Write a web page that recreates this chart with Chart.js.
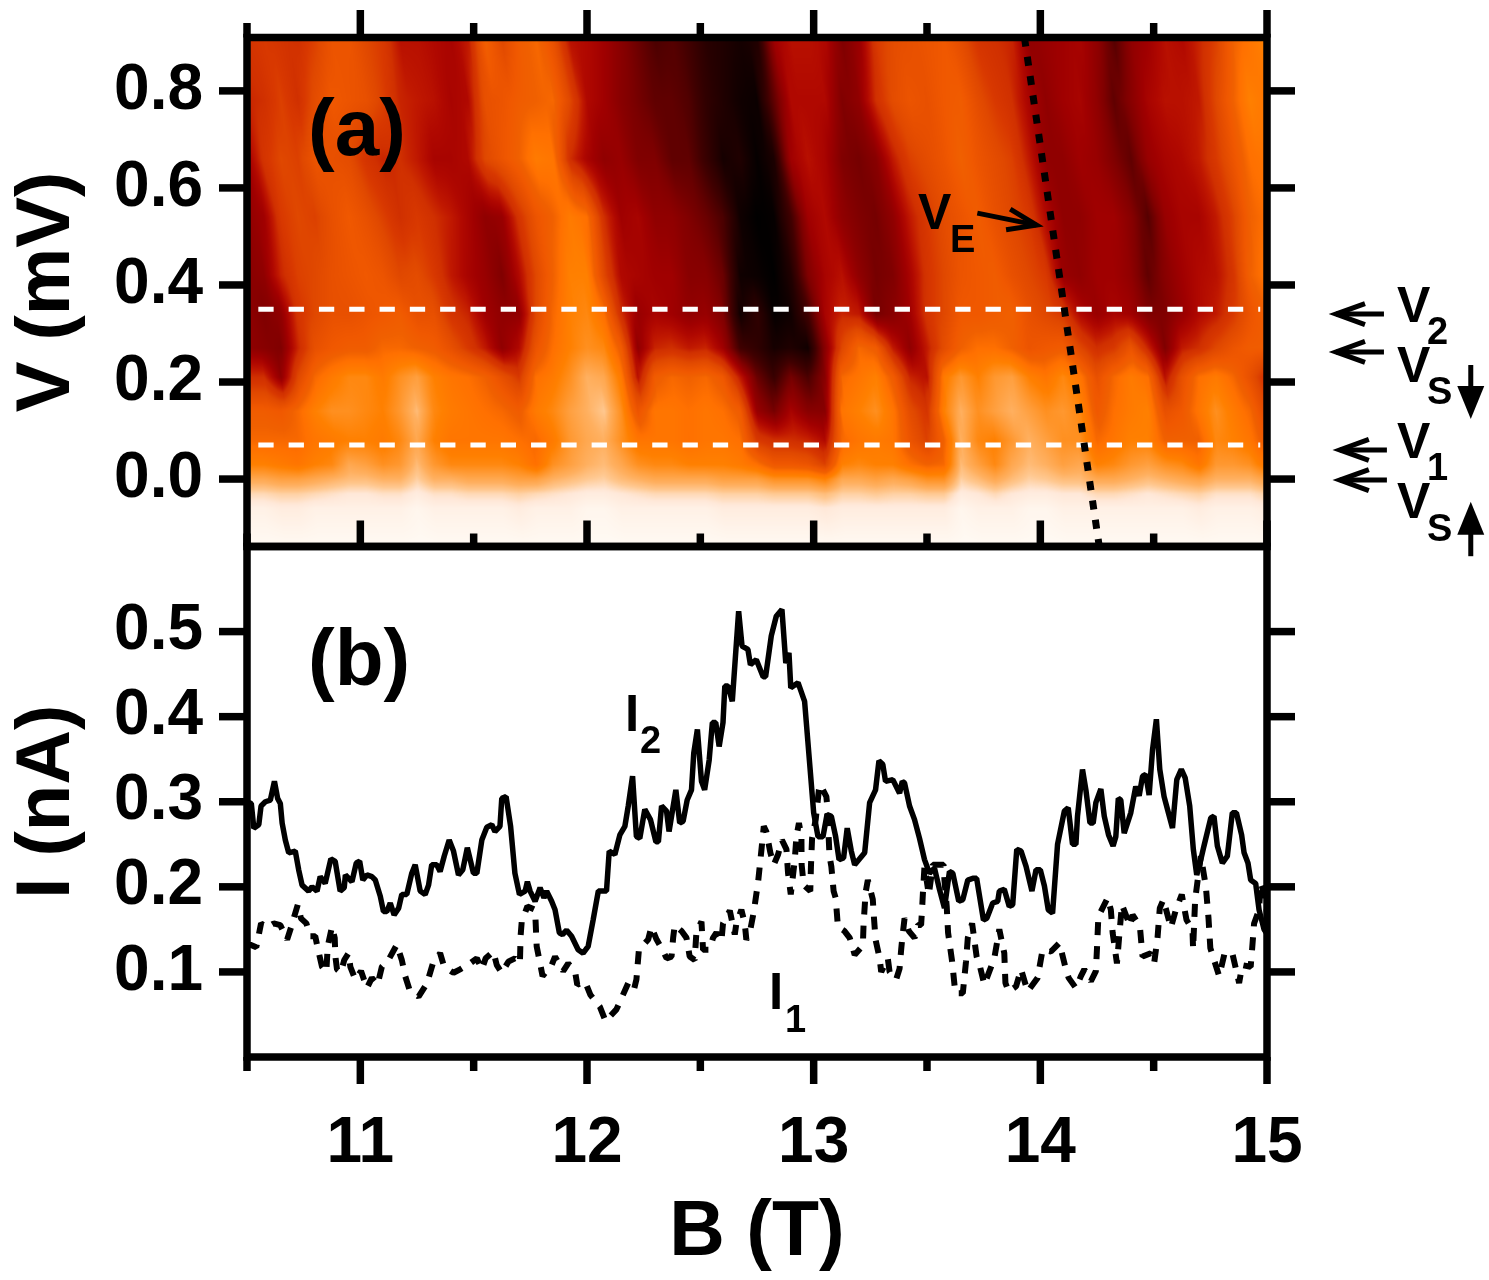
<!DOCTYPE html>
<html>
<head>
<meta charset="utf-8">
<title>V(B) map and I(B) traces</title>
<script src="https://cdn.jsdelivr.net/npm/chart.js@4/dist/chart.umd.min.js"></script>
<style>
  html, body { margin: 0; padding: 0; background: #fff; }
  #wrap { position: relative; width: 1489px; height: 1280px; overflow: hidden; }
  canvas { position: absolute; left: 0; top: 0; }
</style>
</head>
<body>
<div id="wrap">
  <canvas id="mapChart" width="1489" height="1280"></canvas>
  <canvas id="traceChart" width="1489" height="1280"></canvas>
</div>
<script>
// tick positions
const xMajorTicks = [11, 12, 13, 14, 15];
const xMinorTicks = [10.5, 11.5, 12.5, 13.5, 14.5];
const vTicks = [0.0, 0.2, 0.4, 0.6, 0.8];
const iTicks = [0.1, 0.2, 0.3, 0.4, 0.5];

// horizontal guide levels and the V_E line in panel (a)
const v1Level = 0.07;
const v2Level = 0.35;
const guideB = [10.55, 14.97];
const veB = [13.93, 14.26];
const veV = [0.91, -0.139];

// panel (a): colour index 0..100 read along each V level, one per heatB column
const heatB = [10.5,10.575,10.65,10.725,10.8,10.875,10.95,11.025,11.1,11.175,11.25,11.325,11.4,11.475,11.55,11.625,11.7,11.775,11.85,11.925,12,12.075,12.15,12.225,12.3,12.375,12.45,12.525,12.6,12.675,12.75,12.825,12.9,12.975,13.05,13.125,13.2,13.275,13.35,13.425,13.5,13.575,13.65,13.725,13.8,13.875,13.95,14.025,14.1,14.175,14.25,14.325,14.4,14.475,14.55,14.625,14.7,14.775,14.85,14.925,15];
const heatV = [0.91, 0.78, 0.66, 0.54, 0.42, 0.34, 0.27, 0.21, 0.14, 0.08, 0.03, 0.0, -0.03, -0.06, -0.14];
const heat091 = [48,50,48,46,52,60,60,54,50,40,40,38,36,42,66,54,64,68,58,40,38,34,28,22,16,18,14,8,6,4,6,34,40,40,38,26,32,50,56,58,60,62,56,48,46,44,30,32,34,36,30,18,30,34,40,38,44,52,66,72,78];
const heat078 = [44,46,52,46,56,62,60,58,52,44,42,40,36,38,58,60,64,66,68,54,38,34,28,24,20,20,17,10,6,3,2,20,38,38,38,26,30,46,56,60,58,62,64,56,50,46,36,30,34,36,30,20,28,36,40,40,42,54,66,76,72];
const heat066 = [34,48,54,52,60,58,56,48,44,46,42,36,36,38,54,60,66,74,72,46,36,30,32,26,26,20,20,12,4,6,1,5,34,40,36,26,24,28,42,52,56,60,66,60,56,52,42,30,30,34,32,26,20,32,36,38,42,50,60,70,72];
const heat054 = [30,34,50,54,52,58,62,58,52,46,50,46,42,36,30,32,48,60,66,74,70,46,34,36,30,30,26,22,16,3,0,1,14,34,38,30,26,24,30,42,50,56,60,64,58,54,50,38,30,30,34,34,28,18,32,36,36,42,52,66,70];
const heat042 = [28,30,44,52,54,58,60,62,60,54,56,50,42,36,32,26,38,54,66,76,76,54,38,36,34,34,28,28,22,3,2,0,6,26,36,40,30,24,26,36,48,54,60,62,64,58,54,50,32,30,34,34,30,20,28,34,38,40,48,66,72];
const heat034 = [30,26,30,48,54,58,58,60,62,64,58,58,48,44,34,30,30,54,68,76,78,70,46,32,36,34,30,32,26,3,10,1,3,14,36,44,42,24,28,34,48,54,62,62,64,66,58,54,50,38,32,36,34,26,26,32,38,42,50,60,66];
const heat027 = [30,28,26,44,58,62,64,64,68,68,66,64,58,50,42,30,38,60,70,76,80,78,64,30,44,46,42,44,34,14,10,4,6,3,28,54,68,64,42,30,42,56,66,70,70,66,60,62,64,54,46,50,60,44,26,42,46,54,60,64,64];
const heat021 = [46,46,30,54,68,74,78,78,74,80,84,76,72,70,66,58,50,70,74,80,88,86,74,40,64,68,66,68,62,42,22,12,24,16,28,68,72,76,64,44,40,74,82,76,82,84,76,72,78,72,58,68,74,70,40,58,70,74,68,58,46];
const heat014 = [64,64,62,68,76,80,80,78,76,82,90,78,74,72,70,68,64,74,78,84,88,92,80,60,72,72,70,72,70,64,32,24,36,28,28,72,76,80,72,56,48,76,88,80,84,88,84,80,82,78,62,70,74,76,58,62,72,80,74,68,54];
const heat008 = [68,68,68,68,72,74,76,76,74,78,86,76,72,72,72,72,70,68,74,82,86,88,80,72,72,72,70,72,72,70,50,46,46,44,38,68,72,74,72,60,52,66,88,78,76,82,88,84,80,80,68,72,76,76,66,66,66,78,76,72,62];
const heat003 = [76,76,74,72,76,78,86,84,80,82,90,82,78,78,78,78,76,70,80,84,88,90,86,80,78,78,76,76,76,74,70,62,62,60,52,76,78,76,76,70,66,68,90,84,78,86,90,88,84,86,76,78,82,84,80,78,72,82,82,80,72];
const heat000 = [86,86,84,84,86,88,90,90,88,88,93,88,88,86,86,86,84,84,88,90,92,93,90,88,86,86,86,86,84,84,84,80,80,80,76,86,86,84,86,84,80,80,93,90,86,90,93,92,90,90,86,86,88,90,88,86,84,88,88,88,84];
const heatM03 = [94,94,93,93,94,95,96,96,95,95,97,95,95,94,94,94,93,94,95,96,97,97,96,95,94,94,94,94,93,93,93,92,92,92,90,93,93,92,93,93,92,92,97,96,94,96,97,97,96,96,94,94,95,96,95,94,93,95,95,95,93];
const heatM06 = [98,98,97,97,98,98,98,98,98,98,99,98,98,98,98,98,97,98,98,98,99,99,98,98,98,98,98,98,97,97,97,97,97,97,96,97,97,97,97,97,97,97,99,98,98,98,99,99,98,98,98,98,98,98,98,98,97,98,98,98,97];
const heatM14 = [100,100,100,100,100,100,100,100,100,100,100,100,100,100,100,100,100,100,100,100,100,100,100,100,100,100,100,100,100,100,100,100,100,100,100,100,100,100,100,100,100,100,100,100,100,100,100,100,100,100,100,100,100,100,100,100,100,100,100,100,100];
const heatRows = [heat091, heat078, heat066, heat054, heat042, heat034, heat027, heat021, heat014, heat008, heat003, heat000, heatM03, heatM06, heatM14];

// panel (b): I2, solid trace
const i2B = [10.5,10.519,10.53,10.552,10.562,10.581,10.603,10.621,10.635,10.647,10.655,10.669,10.684,10.713,10.728,10.743,10.772,10.787,10.809,10.823,10.845,10.87,10.889,10.911,10.929,10.934,10.963,10.982,10.997,11.011,11.029,11.051,11.066,11.088,11.102,11.117,11.132,11.149,11.169,11.183,11.205,11.227,11.242,11.264,11.286,11.301,11.315,11.337,11.352,11.37,11.392,11.411,11.433,11.452,11.472,11.499,11.514,11.536,11.558,11.58,11.594,11.616,11.624,11.643,11.663,11.682,11.702,11.727,11.737,11.749,11.771,11.793,11.81,11.822,11.844,11.859,11.878,11.892,11.91,11.932,11.961,11.983,12.005,12.027,12.05,12.086,12.098,12.123,12.145,12.167,12.182,12.201,12.218,12.233,12.255,12.28,12.304,12.315,12.329,12.351,12.362,12.373,12.392,12.409,12.424,12.442,12.461,12.471,12.487,12.505,12.519,12.539,12.553,12.568,12.583,12.6,12.608,12.622,12.641,12.669,12.684,12.71,12.721,12.747,12.777,12.788,12.813,12.835,12.86,12.877,12.891,12.899,12.931,12.96,12.982,13,13.019,13.041,13.059,13.078,13.097,13.112,13.132,13.148,13.166,13.181,13.225,13.247,13.273,13.288,13.305,13.317,13.349,13.379,13.391,13.401,13.423,13.445,13.467,13.489,13.511,13.533,13.555,13.577,13.599,13.614,13.64,13.658,13.68,13.702,13.719,13.749,13.764,13.79,13.812,13.819,13.841,13.863,13.878,13.896,13.915,13.937,13.963,13.981,14,14.018,14.035,14.054,14.076,14.106,14.123,14.142,14.157,14.164,14.186,14.201,14.219,14.233,14.245,14.267,14.282,14.301,14.321,14.333,14.344,14.355,14.37,14.399,14.421,14.436,14.451,14.465,14.48,14.495,14.512,14.527,14.546,14.565,14.583,14.602,14.622,14.639,14.659,14.675,14.69,14.708,14.722,14.752,14.766,14.781,14.803,14.825,14.847,14.865,14.888,14.899,14.916,14.928,14.95,14.965,14.987,15];
const i2I = [0.3,0.298,0.269,0.273,0.295,0.3,0.302,0.324,0.304,0.298,0.275,0.255,0.24,0.242,0.22,0.202,0.195,0.2,0.195,0.212,0.204,0.233,0.23,0.195,0.199,0.214,0.206,0.228,0.23,0.208,0.214,0.212,0.208,0.189,0.171,0.171,0.181,0.167,0.175,0.191,0.191,0.216,0.226,0.195,0.191,0.202,0.226,0.226,0.218,0.236,0.255,0.242,0.214,0.22,0.246,0.216,0.216,0.255,0.27,0.273,0.265,0.271,0.304,0.306,0.271,0.216,0.191,0.195,0.206,0.195,0.183,0.199,0.187,0.195,0.183,0.173,0.146,0.144,0.149,0.142,0.126,0.122,0.13,0.161,0.195,0.195,0.242,0.238,0.261,0.271,0.295,0.33,0.259,0.257,0.291,0.279,0.253,0.253,0.295,0.289,0.265,0.283,0.314,0.275,0.277,0.302,0.314,0.357,0.385,0.324,0.314,0.349,0.393,0.393,0.365,0.393,0.436,0.436,0.418,0.524,0.483,0.479,0.461,0.467,0.447,0.447,0.495,0.518,0.526,0.463,0.475,0.434,0.44,0.418,0.346,0.287,0.259,0.259,0.285,0.283,0.259,0.232,0.234,0.269,0.242,0.226,0.24,0.299,0.314,0.348,0.344,0.324,0.326,0.31,0.324,0.322,0.295,0.279,0.257,0.232,0.216,0.222,0.197,0.175,0.218,0.216,0.183,0.185,0.208,0.21,0.21,0.161,0.163,0.181,0.183,0.195,0.197,0.177,0.179,0.244,0.242,0.224,0.195,0.22,0.22,0.201,0.173,0.169,0.25,0.289,0.293,0.25,0.25,0.283,0.338,0.314,0.275,0.275,0.299,0.315,0.283,0.261,0.248,0.259,0.304,0.302,0.263,0.287,0.318,0.307,0.33,0.332,0.308,0.361,0.397,0.338,0.306,0.287,0.269,0.326,0.338,0.328,0.295,0.244,0.214,0.232,0.248,0.281,0.283,0.248,0.228,0.236,0.287,0.287,0.261,0.24,0.228,0.208,0.204,0.173,0.15,0.145];

// panel (b): I1, dashed trace
const i1B = [10.5,10.515,10.541,10.562,10.588,10.618,10.647,10.677,10.694,10.724,10.738,10.762,10.779,10.801,10.812,10.831,10.85,10.856,10.875,10.887,10.89,10.897,10.914,10.929,10.948,10.956,10.978,11.003,11.029,11.051,11.076,11.095,11.124,11.161,11.183,11.198,11.217,11.257,11.286,11.301,11.32,11.352,11.37,11.411,11.44,11.484,11.514,11.536,11.553,11.587,11.602,11.624,11.653,11.682,11.704,11.707,11.712,11.737,11.771,11.778,11.793,11.804,11.844,11.859,11.895,11.917,11.947,11.957,11.991,12.015,12.057,12.082,12.13,12.152,12.182,12.207,12.218,12.229,12.27,12.284,12.307,12.333,12.351,12.373,12.38,12.387,12.417,12.439,12.453,12.475,12.483,12.505,12.512,12.541,12.556,12.571,12.593,12.6,12.63,12.652,12.659,12.681,12.696,12.703,12.718,12.736,12.755,12.769,12.78,12.791,12.809,12.824,12.843,12.86,12.88,12.887,12.899,12.916,12.924,12.935,12.946,12.947,12.956,12.985,12.988,12.993,13.009,13.023,13.029,13.056,13.06,13.07,13.078,13.088,13.097,13.103,13.107,13.136,13.159,13.181,13.217,13.22,13.229,13.239,13.261,13.264,13.273,13.291,13.298,13.327,13.335,13.364,13.379,13.386,13.391,13.401,13.42,13.445,13.46,13.474,13.479,13.482,13.489,13.508,13.526,13.573,13.577,13.587,13.593,13.611,13.625,13.658,13.672,13.68,13.699,13.719,13.734,13.753,13.797,13.819,13.841,13.846,13.86,13.893,13.915,13.944,13.988,14.01,14.047,14.084,14.113,14.125,14.157,14.179,14.194,14.223,14.245,14.25,14.256,14.297,14.311,14.319,14.338,14.348,14.36,14.396,14.407,14.439,14.451,14.487,14.502,14.517,14.527,14.543,14.576,14.598,14.624,14.645,14.671,14.674,14.683,14.708,14.73,14.742,14.75,14.789,14.813,14.847,14.877,14.891,14.928,14.935,14.943,14.965,14.972,14.987,15];
const i1I = [0.13,0.132,0.129,0.157,0.152,0.157,0.155,0.138,0.152,0.179,0.163,0.157,0.142,0.142,0.128,0.106,0.1,0.13,0.153,0.14,0.118,0.103,0.099,0.114,0.122,0.106,0.091,0.101,0.081,0.093,0.085,0.106,0.114,0.132,0.114,0.095,0.079,0.071,0.083,0.093,0.11,0.122,0.106,0.099,0.103,0.11,0.116,0.103,0.116,0.124,0.108,0.099,0.112,0.116,0.11,0.142,0.159,0.177,0.173,0.13,0.11,0.095,0.108,0.118,0.101,0.11,0.101,0.085,0.089,0.073,0.059,0.042,0.056,0.069,0.087,0.079,0.091,0.126,0.138,0.153,0.138,0.126,0.116,0.118,0.14,0.155,0.148,0.14,0.118,0.114,0.148,0.159,0.126,0.126,0.14,0.146,0.136,0.157,0.172,0.144,0.157,0.173,0.157,0.138,0.146,0.171,0.206,0.242,0.271,0.265,0.24,0.226,0.238,0.255,0.244,0.216,0.191,0.23,0.259,0.275,0.259,0.226,0.202,0.195,0.224,0.257,0.279,0.314,0.32,0.306,0.295,0.236,0.224,0.195,0.187,0.167,0.153,0.148,0.14,0.12,0.131,0.155,0.193,0.208,0.185,0.171,0.138,0.116,0.1,0.116,0.1,0.091,0.104,0.126,0.14,0.163,0.148,0.14,0.155,0.155,0.177,0.193,0.224,0.191,0.226,0.226,0.208,0.177,0.146,0.112,0.075,0.075,0.112,0.14,0.157,0.118,0.106,0.085,0.116,0.15,0.122,0.087,0.077,0.083,0.103,0.077,0.093,0.126,0.124,0.134,0.103,0.093,0.081,0.095,0.103,0.089,0.101,0.128,0.165,0.187,0.173,0.146,0.11,0.142,0.179,0.154,0.167,0.154,0.118,0.122,0.11,0.14,0.175,0.185,0.152,0.173,0.191,0.161,0.15,0.127,0.185,0.236,0.201,0.163,0.128,0.095,0.122,0.122,0.087,0.108,0.106,0.129,0.157,0.173,0.205,0.193,0.17];

// colour stops of the map: [index, colour]
const heatStops = [[0,'#000000'],[6,'#200000'],[14,'#400000'],[20,'#600000'],[26,'#800000'],[30,'#900000'],[34,'#a00000'],[38,'#b00800'],[42,'#c01800'],[46,'#d03000'],[50,'#d83800'],[54,'#e04800'],[58,'#e85000'],[62,'#f05800'],[66,'#f06000'],[70,'#ff7000'],[76,'#ff8000'],[80,'#ff9020'],[84,'#ffa040'],[88,'#ffb060'],[92,'#ffc890'],[96,'#ffe8d8'],[100,'#fffaf4']];

const FONT = '"Liberation Sans", Arial, sans-serif';
const STREAK_SLOPE = 0.3; // T per mV, streaks lean to higher B at lower V

Chart.defaults.font.family = FONT;
Chart.defaults.color = '#000';

function hexRgb(hex) {
  return [1, 3, 5].map(i => parseInt(hex.slice(i, i + 2), 16));
}

function heatColour(value) {
  let k = 0;
  while (k < heatStops.length - 2 && value > heatStops[k + 1][0]) k++;
  const [v0, c0] = heatStops[k];
  const [v1, c1] = heatStops[k + 1];
  const t = Math.min(1, Math.max(0, (value - v0) / (v1 - v0)));
  const a = hexRgb(c0), b = hexRgb(c1);
  return a.map((c, i) => c + (b[i] - c) * t);
}

function sampleRow(row, b) {
  const last = heatB.length - 1;
  const f = Math.min(last, Math.max(0, (b - heatB[0]) / (heatB[last] - heatB[0]) * last));
  const i = Math.min(last - 1, Math.floor(f));
  return row[i] + (row[i + 1] - row[i]) * (f - i);
}

// paints the map cells from heatRows through the chart's own scales
const heatmapPlugin = {
  id: 'heatmap',
  beforeDatasetsDraw(chart) {
    const { ctx, chartArea: area, scales: { x, y } } = chart;
    const w = Math.ceil(area.right - area.left);
    const h = Math.ceil(area.bottom - area.top);
    const off = document.createElement('canvas');
    off.width = w;
    off.height = h;
    const offCtx = off.getContext('2d');
    const img = offCtx.createImageData(w, h);
    const lut = [];
    for (let i = 0; i <= 1000; i++) lut.push(heatColour(i / 10));
    for (let py = 0; py < h; py++) {
      const v = y.getValueForPixel(area.top + py + 0.5);
      let k = 0;
      while (k < heatV.length - 2 && v < heatV[k + 1]) k++;
      const t = Math.min(1, Math.max(0, (heatV[k] - v) / (heatV[k] - heatV[k + 1])));
      for (let px = 0; px < w; px++) {
        const b = x.getValueForPixel(area.left + px + 0.5);
        const upper = sampleRow(heatRows[k], b + STREAK_SLOPE * (v - heatV[k]));
        const lower = sampleRow(heatRows[k + 1], b + STREAK_SLOPE * (v - heatV[k + 1]));
        const c = lut[Math.round((upper + (lower - upper) * t) * 10)];
        const o = (py * w + px) * 4;
        img.data[o] = c[0];
        img.data[o + 1] = c[1];
        img.data[o + 2] = c[2];
        img.data[o + 3] = 255;
      }
    }
    offCtx.putImageData(img, 0, 0);
    ctx.drawImage(off, area.left, area.top);
  }
};

function drawTick(ctx, x1, y1, x2, y2) {
  ctx.beginPath();
  ctx.moveTo(x1, y1);
  ctx.lineTo(x2, y2);
  ctx.stroke();
}

function drawFrame(chart, yTicks, topTicks, bottomTicks) {
  const { ctx, chartArea: a, scales: { x, y } } = chart;
  ctx.save();
  ctx.strokeStyle = '#000';
  ctx.lineWidth = 7.5;
  ctx.lineCap = 'butt';
  ctx.strokeRect(a.left, a.top, a.right - a.left, a.bottom - a.top);
  yTicks.forEach(v => {
    const p = y.getPixelForValue(v);
    drawTick(ctx, a.left - 28, p, a.left, p);
    drawTick(ctx, a.right, p, a.right + 28, p);
  });
  topTicks.forEach(([b, len]) => {
    const p = x.getPixelForValue(b);
    drawTick(ctx, p, a.top - len, p, a.top);
  });
  bottomTicks.forEach(([b, len]) => {
    const p = x.getPixelForValue(b);
    drawTick(ctx, p, a.bottom, p, a.bottom + len);
  });
  ctx.restore();
}

function label(ctx, str, x, y, size) {
  ctx.font = `bold ${size}px ${FONT}`;
  ctx.fillText(str, x, y);
}

function lineArrow(chart, b1, v1, b2, v2) {
  const { ctx, scales: { x, y } } = chart;
  const x1 = x.getPixelForValue(b1), y1 = y.getPixelForValue(v1);
  const x2 = x.getPixelForValue(b2), y2 = y.getPixelForValue(v2);
  const ang = Math.atan2(y2 - y1, x2 - x1);
  const cos = Math.cos(ang), sin = Math.sin(ang);
  // the mitred head sticks out past its apex, so the apex sits 8px short of the tip
  const apexX = x2 - 8 * cos, apexY = y2 - 8 * sin;
  ctx.lineWidth = 5;
  ctx.lineJoin = 'miter';
  drawTick(ctx, x1, y1, apexX, apexY);
  ctx.beginPath();
  [-1, 1].forEach((side, n) => {
    const bx = x2 - 37 * cos - side * 10.5 * sin;
    const by = y2 - 37 * sin + side * 10.5 * cos;
    if (n === 0) { ctx.moveTo(bx, by); ctx.lineTo(apexX, apexY); } else { ctx.lineTo(bx, by); }
  });
  ctx.stroke();
}

function solidArrow(chart, b, vTail, vTip) {
  const { ctx, scales: { x, y } } = chart;
  const px = x.getPixelForValue(b);
  const y1 = y.getPixelForValue(vTail), y2 = y.getPixelForValue(vTip);
  const dir = y2 > y1 ? 1 : -1;
  ctx.lineWidth = 5;
  drawTick(ctx, px, y1, px, y2 - dir * 30);
  ctx.beginPath();
  ctx.moveTo(px - 13.5, y2 - dir * 33);
  ctx.lineTo(px + 13.5, y2 - dir * 33);
  ctx.lineTo(px, y2);
  ctx.closePath();
  ctx.fill();
}

const mapNotesPlugin = {
  id: 'mapNotes',
  afterDraw(chart) {
    const { ctx } = chart;
    drawFrame(chart, vTicks,
      xMajorTicks.map(b => [b, 27.5]).concat(xMinorTicks.map(b => [b, 14.5])),
      xMajorTicks.map(b => [b, -26]).concat(xMinorTicks.map(b => [b, -13])));
    ctx.save();
    ctx.fillStyle = '#000';
    ctx.strokeStyle = '#000';
    ctx.textAlign = 'left';
    ctx.textBaseline = 'alphabetic';
    label(ctx, '(a)', 308, 155, 80);
    label(ctx, 'V', 918, 229, 50);
    label(ctx, 'E', 950, 252, 38);
    label(ctx, 'V', 1397, 322, 50);
    label(ctx, '2', 1427, 344, 38);
    label(ctx, 'V', 1397, 382, 50);
    label(ctx, 'S', 1427, 404, 38);
    label(ctx, 'V', 1397, 458, 50);
    label(ctx, '1', 1427, 480, 38);
    label(ctx, 'V', 1397, 518, 50);
    label(ctx, 'S', 1427, 541, 38);
    lineArrow(chart, 13.722, 0.548, 14.018, 0.52);
    lineArrow(chart, 15.516, 0.34, 15.269, 0.34);
    lineArrow(chart, 15.516, 0.262, 15.269, 0.262);
    lineArrow(chart, 15.529, 0.06, 15.286, 0.06);
    lineArrow(chart, 15.529, -0.002, 15.286, -0.002);
    solidArrow(chart, 15.899, 0.235, 0.124);
    solidArrow(chart, 15.899, -0.159, -0.047);
    ctx.restore();
  }
};

const traceNotesPlugin = {
  id: 'traceNotes',
  afterDraw(chart) {
    const { ctx } = chart;
    drawFrame(chart, iTicks, [], xMajorTicks.map(b => [b, 27]).concat(xMinorTicks.map(b => [b, 14])));
    ctx.save();
    ctx.fillStyle = '#000';
    ctx.textAlign = 'left';
    ctx.textBaseline = 'alphabetic';
    label(ctx, '(b)', 308, 685, 80);
    label(ctx, 'I', 625, 731, 51);
    label(ctx, '2', 640, 753, 38);
    label(ctx, 'I', 769, 1009, 51);
    label(ctx, '1', 785, 1032, 38);
    ctx.restore();
  }
};

function pairs(xs, ys) {
  return xs.map((x, i) => ({ x, y: ys[i] }));
}

function yAxis(min, max, ticks, digits, title) {
  return {
    type: 'linear',
    min,
    max,
    // tick labels must not push the plot edge, the panels are placed by layout.padding
    afterFit: s => { s.width = 247; s.paddingTop = 0; s.paddingBottom = 0; },
    afterBuildTicks: s => { s.ticks = ticks.map(value => ({ value })); },
    border: { display: false },
    grid: { display: false },
    ticks: {
      padding: 36,
      autoSkip: false,
      font: { size: 64, weight: 'bold' },
      callback: v => v.toFixed(digits)
    },
    title: {
      display: true,
      text: title,
      font: { size: 76, weight: 'bold' },
      padding: { top: 2, bottom: 0 }
    }
  };
}

const baseOptions = {
  responsive: false,
  animation: false,
  plugins: { legend: { display: false }, tooltip: { enabled: false }, title: { display: false } }
};

new Chart(document.getElementById('mapChart'), {
  type: 'line',
  data: {
    datasets: [
      { label: 'V_E', data: pairs(veB, veV), borderColor: '#000', borderWidth: 7, borderDash: [9, 10.5], pointRadius: 0, order: 1 },
      { label: 'V2', data: pairs(guideB, [v2Level, v2Level]), borderColor: '#fff', borderWidth: 5, borderDash: [15.3, 15], pointRadius: 0, order: 2 },
      { label: 'V1', data: pairs(guideB, [v1Level, v1Level]), borderColor: '#fff', borderWidth: 5, borderDash: [15.3, 15], pointRadius: 0, order: 3 }
    ]
  },
  options: {
    ...baseOptions,
    layout: { autoPadding: false, padding: { left: 0, top: 37.5, right: 222, bottom: 733.5 } },
    scales: {
      x: { type: 'linear', min: 10.5, max: 15, display: false },
      y: yAxis(-0.139, 0.91, vTicks, 1, 'V (mV)')
    }
  },
  plugins: [heatmapPlugin, mapNotesPlugin]
});

new Chart(document.getElementById('traceChart'), {
  type: 'line',
  data: {
    datasets: [
      { label: 'I2', data: pairs(i2B, i2I), borderColor: '#000', borderWidth: 5.5, borderJoinStyle: 'bevel', tension: 0, pointRadius: 0 },
      { label: 'I1', data: pairs(i1B, i1I), borderColor: '#000', borderWidth: 6, borderDash: [13, 11], borderJoinStyle: 'bevel', tension: 0, pointRadius: 0 }
    ]
  },
  options: {
    ...baseOptions,
    layout: { autoPadding: false, padding: { left: 0, top: 546.5, right: 222, bottom: 0 } },
    scales: {
      x: {
        type: 'linear',
        min: 10.5,
        max: 15,
        afterFit: s => { s.height = 223; },
        afterBuildTicks: s => { s.ticks = xMajorTicks.map(value => ({ value })); },
        border: { display: false },
        grid: { display: false },
        ticks: {
          padding: 41,
          autoSkip: false,
          maxRotation: 0,
          font: { size: 64, weight: 'bold' },
          callback: v => String(v)
        },
        title: {
          display: true,
          text: 'B (T)',
          font: { size: 77, weight: 'bold' },
          padding: { top: 0, bottom: 0 }
        }
      },
      y: yAxis(0, 0.6, iTicks, 1, 'I (nA)')
    }
  },
  plugins: [traceNotesPlugin]
});
</script>
</body>
</html>
